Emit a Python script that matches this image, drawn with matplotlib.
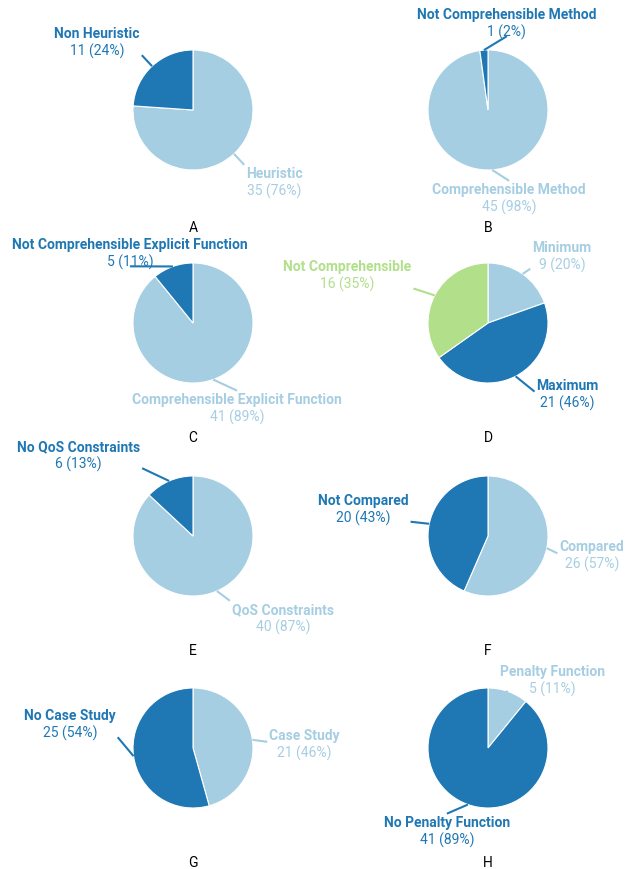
import numpy as np
import matplotlib.pyplot as plt
from matplotlib.offsetbox import TextArea, VPacker, AnnotationBbox

plt.rcParams['font.family'] = ['Roboto', 'DejaVu Sans']

# data: one pie per panel, slices listed clockwise from 12 o'clock
panel_letters = ['A', 'B', 'C', 'D', 'E', 'F', 'G', 'H']
slice_names = [
    ['Heuristic', 'Non Heuristic'],
    ['Comprehensible Method', 'Not Comprehensible Method'],
    ['Comprehensible Explicit Function', 'Not Comprehensible Explicit Function'],
    ['Minimum', 'Maximum', 'Not Comprehensible'],
    ['QoS Constraints', 'No QoS Constraints'],
    ['Compared', 'Not Compared'],
    ['Case Study', 'No Case Study'],
    ['Penalty Function', 'No Penalty Function'],
]
slice_counts = [
    [35, 11],
    [45, 1],
    [41, 5],
    [9, 21, 16],
    [40, 6],
    [26, 20],
    [21, 25],
    [5, 41],
]
slice_colors = ['#a6cee3', '#1f78b4', '#b2df8a']

# layout (pixels)
W, H = 625, 870
col_x = [193, 488]
row_y = [111, 324, 537, 749]
letter_y = [228, 438, 651, 863]
R = 60
# label nudge from the default leader end (dx, dy down), box alignment
label_layout = [
    [(0, 0, 'left', 'top'), (0, 0, 'right', 'bottom')],
    [(16, -4, 'center', 'top'), (24, 1, 'center', 'bottom')],
    [(19, -3, 'center', 'top'), (-38, 14, 'center', 'bottom')],
    [(-1, 7, 'left', 'bottom'), (12, 2, 'left', 'center'), (-8, 0, 'right', 'bottom')],
    [(7, -4, 'left', 'top'), (-21, 1, 'right', 'bottom')],
    [(-4, 2, 'left', 'center'), (-4, 1, 'right', 'bottom')],
    [(0, 4, 'left', 'center'), (-1, -21, 'right', 'bottom')],
    [(-15, 16, 'left', 'bottom'), (-16, -5, 'center', 'top')],
]
HA = {'left': 0.0, 'center': 0.5, 'right': 1.0}
VA = {'bottom': 0.0, 'center': 0.5, 'top': 1.0}
GAP_X = {'left': 2, 'center': 0, 'right': -2}
GAP_Y = {'bottom': -3, 'center': -2, 'top': -1}

fig = plt.figure(figsize=(W / 100, H / 100), dpi=100)
ax = fig.add_axes([0, 0, 1, 1])

for i, letter in enumerate(panel_letters):
    names = slice_names[i]
    counts = slice_counts[i]
    total = sum(counts)
    cx = col_x[i % 2]
    cy = H - row_y[i // 2]
    wedges, _ = ax.pie(counts, colors=slice_colors[:len(counts)], startangle=90,
                       counterclock=False, center=(cx, cy), radius=R, frame=True,
                       wedgeprops=dict(edgecolor='white', linewidth=0.8))
    for w, name, n, (dx, dy, ha, va) in zip(wedges, names, counts, label_layout[i]):
        ang = np.deg2rad((w.theta1 + w.theta2) / 2)
        x0, y0 = cx + R * np.cos(ang), cy + R * np.sin(ang)
        x1 = cx + 1.25 * R * np.cos(ang) + dx
        y1 = cy + 1.25 * R * np.sin(ang) - dy
        col = w.get_facecolor()
        ax.plot([x0, x1], [y0, y1], color=col, lw=1.5, solid_capstyle='butt')
        box = VPacker(children=[
            TextArea(name, textprops=dict(color=col, fontsize=10, fontweight='bold')),
            TextArea(f'{n} ({round(100 * n / total)}%)', textprops=dict(color=col, fontsize=10)),
        ], align='center', pad=0, sep=2)
        ab = AnnotationBbox(box, (x1, y1), xybox=(x1 + GAP_X[ha], y1 + GAP_Y[va]),
                            box_alignment=(HA[ha], VA[va]), frameon=False, pad=0)
        ax.add_artist(ab)
    ax.text(cx, H - letter_y[i // 2], letter, ha='center', va='center',
            fontsize=10, color='black')

ax.set_xlim(0, W)
ax.set_ylim(0, H)
ax.axis('off')
fig.savefig('out.png', dpi=100)
